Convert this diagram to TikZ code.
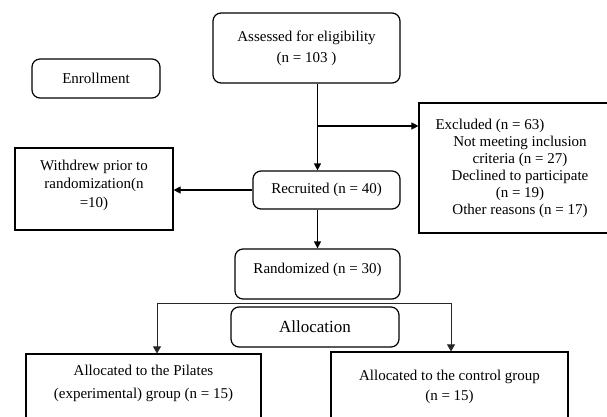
\documentclass[tikz,border=0pt]{standalone}
\usepackage{fontspec}
\setmainfont{Liberation Serif}
\usetikzlibrary{arrows.meta}
\tikzset{
  roundbox/.style={draw,line width=1.2pt,rounded corners=8pt,inner sep=0pt,align=center},
  squarebox/.style={draw,line width=1.2pt,inner sep=0pt,align=center},
  flowarrow/.style={-{Triangle[length=7pt,width=7pt]},line width=1.2pt},
  splitarrow/.style={-{Triangle[length=7pt,width=8pt]},line width=0.8pt,black!85},
  txt/.style={font=\fontsize{15}{21}\selectfont}
}
\newcommand{\drawflowbox}[7]{
  \node[#2,txt,minimum width=#5,minimum height=#6] (#1) at (#3,#4) {#7};
}

\begin{document}
\begin{tikzpicture}[x=1pt,y=-1pt]
      \useasboundingbox (0,0) rectangle (607,417);
      \drawflowbox{assess}{roundbox}{306.5}{48}{187pt}{70pt}{Assessed for eligibility\\(n = 103 )}
      \drawflowbox{enroll}{roundbox}{96}{78.5}{128pt}{39pt}{Enrollment}
      \coordinate (S) at (317.5,0);                                   % main spine
      
      \drawflowbox{excl}{squarebox}{520}{168}{202pt}{130pt}{}          % 63 excluded
      \node[txt,anchor=west] (exclhead) at (432,126) {Excluded (n = 63)};
      \node[txt,align=center,font=\fontsize{15}{16.9}\selectfont] (excllist) at (520,177)
        {Not meeting inclusion\\criteria (n = 27)\\Declined to participate\\(n = 19)\\Other reasons (n = 17)};
      \coordinate (T) at (318,126);
      
      \drawflowbox{recruit}{roundbox}{326.5}{190}{147pt}{38pt}{Recruited (n = 40)}
      \drawflowbox{withdrew}{squarebox}{94}{189}{158pt}{82pt}{}       % 10 withdrew
      \node[txt,align=center,font=\fontsize{15}{18.5}\selectfont] (withdrewtext) at (94,185)
        {Withdrew prior to\\randomization(n\\=10)};
      
      \draw[flowarrow] (assess.south -| S) -- (recruit.north -| S);
      \draw[flowarrow] (T) -- (T -| excl.west);
      \draw[flowarrow] (recruit.west) -- (recruit.west -| withdrew.east);
      
      \drawflowbox{random}{roundbox}{317.5}{274}{165pt}{50pt}{}       % 30 randomized
      \node[txt] (randomtext) at (317.5,270) {Randomized (n = 30)};
      \draw[flowarrow] (recruit.south -| S) -- (random.north -| S);
      
      \drawflowbox{alloc}{roundbox}{315}{327}{168pt}{40pt}{\fontsize{17}{20}\selectfont Allocation}
      
      \drawflowbox{pilates}{squarebox}{143.5}{398}{235pt}{88pt}{}     % 15 pilates
      \node[txt,align=center,font=\fontsize{15}{23}\selectfont] (pilatestext) at (143.5,383.5)
        {Allocated to the Pilates\\(experimental) group (n = 15)};
      \drawflowbox{control}{squarebox}{449.5}{397}{237pt}{90pt}{}     % 15 control
      \node[txt,align=center,font=\fontsize{15}{20}\selectfont] (controltext) at (449.5,387)
        {Allocated to the control group\\(n = 15)};
      
      \coordinate (L) at (157,303);
      \coordinate (R) at (451,303);
      \draw[line width=0.8pt,black!85] (L) -- (R);
      \draw[splitarrow] (L) -- (L |- pilates.north);
      \draw[splitarrow] (R) -- (R |- control.north);
\end{tikzpicture}
\end{document}
